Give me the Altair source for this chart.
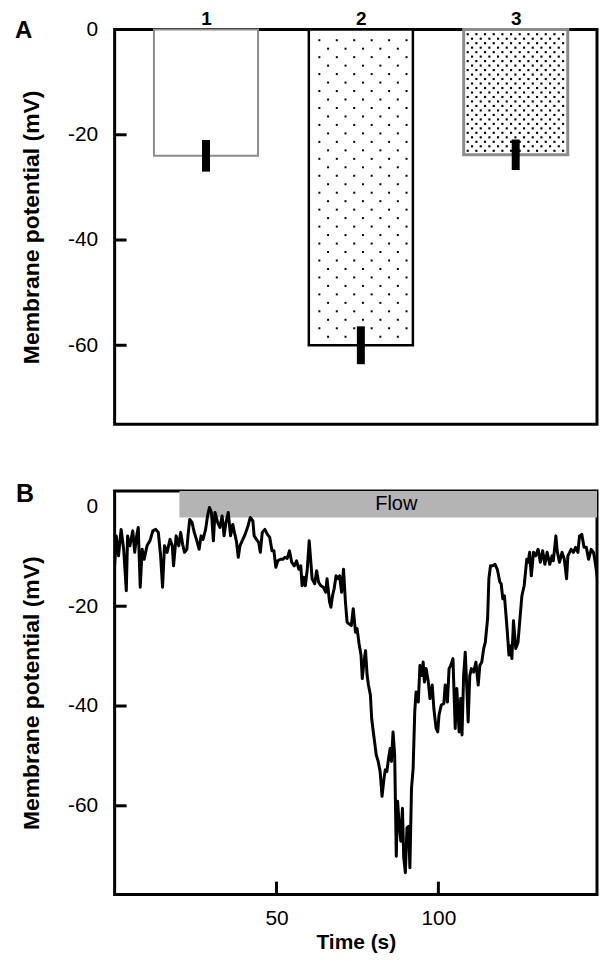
import altair as alt
import pandas as pd

FONT = "Liberation Sans"

# ---------------- Panel A data ----------------
bar_ids = [1, 2, 3]
bar_means = [-24.0, -60.0, -23.8]
bar_sems = [3.0, 3.6, 2.9]
a_tick_values = [0, -20, -40, -60]
inner_ticks_a = [-20, -40, -60]

# ---------------- Panel B data ----------------
time_s = [0.0, 0.5, 1.2, 2.0, 2.8, 3.6, 4.0, 4.7, 5.6, 6.2, 6.8, 7.3, 7.9, 8.5, 9.1, 10.0,
          10.9, 11.8, 12.7, 13.5, 14.2, 14.8, 15.4, 16.2, 17.1, 17.8, 18.2, 19.0, 19.8, 20.4,
          21.0, 21.6, 22.3, 22.7, 23.2, 23.9, 24.6, 25.4, 26.1, 26.7, 27.3, 28.1, 28.7, 29.3,
          29.9, 30.5, 31.0, 31.8, 32.5, 33.2, 33.8, 34.4, 35.1, 35.8, 36.5, 37.0, 37.6, 38.2,
          38.7, 39.6, 40.3, 41.2, 41.9, 42.7, 43.1, 43.8, 44.5, 45.0, 45.6, 46.4, 47.2, 47.9,
          48.6, 49.2, 49.8, 50.4, 51.2, 51.9, 52.6, 53.3, 54.0, 54.7, 55.5, 56.2, 56.9, 57.5,
          57.9, 58.4, 58.9, 59.5, 60.1, 60.7, 61.0, 61.8, 62.4, 63.0, 63.7, 64.5, 65.2, 65.6,
          66.4, 66.8, 67.3, 67.8, 68.4, 69.0, 69.5, 70.1, 70.7, 71.3, 71.8, 72.3, 73.1, 73.7,
          74.4, 74.9, 75.5, 76.1, 76.5, 77.0, 77.5, 78.0, 78.4, 79.0, 79.4, 79.9, 80.3, 80.8,
          81.4, 82.0, 82.6, 83.2, 83.6, 84.1, 84.6, 85.1, 85.5, 86.0, 86.5, 87.0, 87.4, 87.9,
          88.4, 88.9, 89.3, 89.8, 90.3, 90.8, 91.2, 91.7, 92.2, 92.7, 93.1, 93.8, 94.3, 94.8,
          95.3, 95.7, 96.2, 96.9, 97.4, 98.1, 98.6, 99.3, 99.8, 100.2, 100.9, 101.7, 102.1, 102.8,
          103.3, 103.8, 104.5, 105.2, 105.7, 106.4, 106.9, 107.3, 107.8, 108.3, 108.8, 109.2,
          109.7, 110.2, 110.9, 111.6, 112.3, 112.8, 113.4, 114.0, 114.5, 115.2, 115.6, 116.1,
          116.8, 117.5, 118.2, 119.0, 119.4, 119.9, 120.4, 120.9, 121.3, 121.8, 122.3, 122.7,
          123.2, 123.9, 124.6, 125.2, 125.8, 126.5, 127.3, 127.7, 128.2, 128.7, 129.4, 130.1,
          130.8, 131.5, 132.2, 132.9, 133.6, 134.4, 135.1, 135.5, 136.3, 136.7, 137.4, 138.2,
          138.9, 139.6, 140.0, 141.0, 141.7, 142.4, 143.1, 143.6, 144.3, 145.0, 145.7, 146.4,
          147.2, 147.9, 148.3, 149.3]
vm_mv = [-11.9, -5.9, -9.9, -4.6, -8.6, -16.9, -5.9, -7.9, -4.9, -9.2, -5.9, -4.2, -16.2, -8.6, -10.6, -7.9,
         -6.9, -4.9, -4.6, -5.2, -9.9, -16.2, -7.9, -9.2, -6.6, -7.9, -11.9, -5.9, -7.9, -5.2,
         -7.6, -9.2, -8.6, -5.6, -2.6, -3.2, -5.2, -6.9, -8.6, -5.9, -6.6, -4.6, -1.9, -0.2,
         -1.2, -6.9, -1.2, -3.2, -4.2, -1.9, -5.9, -3.2, -1.2, -5.9, -3.6, -5.2, -6.9, -10.2,
         -7.9, -6.6, -5.6, -3.9, -2.2, -2.9, -5.9, -6.6, -7.2, -9.2, -5.2, -4.6, -5.6, -6.2,
         -8.9, -8.9, -12.2, -10.9, -10.6, -10.6, -10.2, -10.4, -8.9, -11.2, -11.9, -10.9, -12.6, -11.9,
         -15.9, -14.2, -15.9, -12.6, -6.9, -11.9, -14.5, -15.5, -12.9, -15.2, -15.9, -16.2, -17.2, -14.5,
         -19.2, -20.2, -17.9, -16.5, -13.9, -14.5, -13.9, -17.2, -12.6, -19.2, -23.2, -23.5, -23.9, -20.5,
         -25.2, -24.5, -27.5, -29.8, -34.5, -31.2, -28.9, -33.9, -35.8, -37.8, -42.5, -45.2, -47.2, -49.8,
         -51.1, -53.1, -58.1, -54.5, -52.8, -53.1, -50.5, -48.5, -51.1, -45.2, -49.8, -70.1, -59.1, -63.8,
         -67.1, -60.5, -70.4, -73.4, -64.4, -64.1, -72.4, -56.5, -52.5, -41.2, -37.2, -39.2, -31.9, -33.9,
         -31.2, -35.2, -32.5, -35.2, -38.5, -35.8, -40.5, -44.5, -45.2, -41.8, -39.8, -39.5, -35.8, -39.2,
         -32.5, -31.9, -30.5, -44.5, -36.5, -45.2, -38.5, -45.8, -33.9, -29.2, -36.5, -43.2,
         -33.9, -32.5, -33.2, -31.2, -35.8, -31.9, -31.2, -28.5, -27.2, -22.5, -14.5, -11.9,
         -11.9, -11.6, -12.6, -15.2, -15.5, -18.5, -17.9, -21.9, -25.2, -29.8, -27.9, -30.5,
         -22.9, -28.5, -27.2, -22.5, -17.9, -15.9, -10.6, -11.2, -9.2, -13.9, -9.2, -9.9,
         -8.6, -11.2, -8.9, -11.6, -9.2, -11.6, -9.9, -10.9, -5.9, -8.9, -11.2, -9.2,
         -10.6, -14.5, -9.9, -8.6, -9.2, -8.2, -9.2, -5.9, -5.6, -8.2, -8.2, -10.6,
         -8.6, -9.2, -10.6, -15.2]
flow_start = [20]
flow_end = [150]
flow_low = [-2.2]
flow_high = [3.1]
flow_label = ["Flow"]
flow_label_time = [87]
b_y_tick_values = [0, -20, -40, -60]
inner_ticks_b_y = [-20, -40, -60]
b_x_tick_values = [50, 100]

# ---------------- styles ----------------
WA, HA = 484, 396
WB, HB = 484, 405
BAR_HALF = 0.336  # half bar width in category units

axis_y_common = dict(ticks=False, tickSize=0, domain=False, grid=False, labelFontSize=21,
                     labelPadding=17, labelColor="black", titleFontSize=23,
                     titleFontWeight="bold", titleColor="black", titlePadding=24,
                     labelFont=FONT, titleFont=FONT, labelExpr="'' + datum.value")

xa = alt.Scale(domain=[0.41, 3.525], nice=False, zero=False)
ya = alt.Scale(domain=[-75, 0], nice=False, zero=False)
ax_xa = alt.Axis(orient="top", values=bar_ids, format="d", title=None,
                 ticks=False, tickSize=0, domain=False, grid=False, labelFontSize=19,
                 labelFontWeight="bold", labelPadding=1, labelColor="black",
                 labelFont=FONT)
ax_ya = alt.Axis(values=a_tick_values, title="Membrane potential (mV)", **axis_y_common)

bars_df = pd.DataFrame({"bar": bar_ids, "mean": bar_means, "sem": bar_sems})

bars = alt.Chart(bars_df).transform_calculate(
    x1=f"datum.bar - {BAR_HALF}", x2=f"datum.bar + {BAR_HALF}", base="0"
).mark_rect(fill="white").encode(
    x=alt.X("x1:Q", scale=xa, axis=ax_xa),
    x2="x2:Q",
    y=alt.Y("mean:Q", scale=ya, axis=ax_ya),
    y2="base:Q",
    stroke=alt.Stroke("bar:O", scale=alt.Scale(domain=bar_ids,
                      range=["#8c8c8c", "#000000", "#8c8c8c"]), legend=None),
    strokeWidth=alt.StrokeWidth("bar:O", scale=alt.Scale(domain=bar_ids,
                      range=[2, 3, 2.5]), legend=None),
)


def dot_layer(bar, row_step, col_step, first_row, first_col, ncols, size):
    return alt.Chart(bars_df).transform_filter(
        alt.datum.bar == bar
    ).transform_calculate(
        rows=f"sequence(0, floor((-datum.mean - 0.4 - {first_row}) / {row_step}) + 1)"
    ).transform_flatten(["rows"], as_=["r"]).transform_calculate(
        cols=f"sequence(0, {ncols})"
    ).transform_flatten(["cols"], as_=["c"]).transform_calculate(
        dx=f"datum.bar - {BAR_HALF} + {first_col} + datum.c * {col_step} + (datum.r % 2) * {col_step / 2}",
        dy=f"-({first_row} + datum.r * {row_step})",
    ).transform_filter(
        f"datum.dx < datum.bar + {BAR_HALF} - 0.02"
    ).mark_square(size=size, color="black", opacity=1, strokeWidth=0).encode(
        x=alt.X("dx:Q", scale=xa, axis=ax_xa),
        y=alt.Y("dy:Q", scale=ya, axis=ax_ya),
    )


dots2 = dot_layer(2, 1.61, 0.1126, 2.03, 0.068, 6, 4)
dots3 = dot_layer(3, 0.852, 0.056, 0.89, 0.026, 12, 4.5)

errs = alt.Chart(bars_df).transform_calculate(
    lo="datum.mean - datum.sem", hi="datum.mean + datum.sem"
).mark_rule(color="black", strokeWidth=8).encode(
    x=alt.X("bar:Q", scale=xa, axis=ax_xa),
    y=alt.Y("lo:Q", scale=ya, axis=ax_ya),
    y2="hi:Q",
)

ticks_a = alt.Chart(pd.DataFrame({"v": inner_ticks_a})).mark_rule(
    color="black", strokeWidth=3
).encode(y=alt.Y("v:Q", scale=ya, axis=ax_ya), x=alt.value(0), x2=alt.value(12))

label_a = alt.Chart(pd.DataFrame({"t": ["A"]})).mark_text(
    font=FONT, fontSize=24, fontWeight="bold", align="left", baseline="alphabetic",
    color="black"
).encode(text="t:N", x=alt.value(-100), y=alt.value(8))

panel_a = alt.layer(bars, dots2, dots3, errs, ticks_a, label_a).properties(
    width=WA, height=HA)

# ---------------- Panel B ----------------
xb = alt.Scale(domain=[0, 149], nice=False, zero=False)
yb = alt.Scale(domain=[-77.8, 3.1], nice=False, zero=False)
ax_xb = alt.Axis(values=b_x_tick_values, title="Time (s)", ticks=False, tickSize=0,
                 domain=False, grid=False, labelFontSize=21, labelPadding=13,
                 labelColor="black", titleFontSize=21, titleFontWeight="bold",
                 titleColor="black", titlePadding=3, labelFont=FONT, titleFont=FONT)
ax_yb = alt.Axis(values=b_y_tick_values, title="Membrane potential (mV)", **axis_y_common)

trace_df = pd.DataFrame({"t": time_s, "v": vm_mv})
flow_df = pd.DataFrame({"start": flow_start, "end": flow_end, "low": flow_low,
                        "high": flow_high, "label": flow_label,
                        "lt": flow_label_time})

flow_rect = alt.Chart(flow_df).mark_rect(color="#b4b4b4", clip=True).encode(
    x=alt.X("start:Q", scale=xb, axis=ax_xb),
    x2="end:Q",
    y=alt.Y("low:Q", scale=yb, axis=ax_yb),
    y2="high:Q",
)

flow_text = alt.Chart(flow_df).transform_calculate(
    mid="(datum.low + datum.high) / 2"
).mark_text(font=FONT, fontSize=20, color="black", baseline="middle").encode(
    x=alt.X("lt:Q", scale=xb, axis=ax_xb),
    y=alt.Y("mid:Q", scale=yb, axis=ax_yb),
    text="label:N",
)

trace = alt.Chart(trace_df).mark_line(
    color="black", strokeWidth=3, clip=True, strokeJoin="round"
).encode(
    x=alt.X("t:Q", scale=xb, axis=ax_xb),
    y=alt.Y("v:Q", scale=yb, axis=ax_yb),
)

ticks_by = alt.Chart(pd.DataFrame({"v": inner_ticks_b_y})).mark_rule(
    color="black", strokeWidth=3
).encode(y=alt.Y("v:Q", scale=yb, axis=ax_yb), x=alt.value(0), x2=alt.value(12))

ticks_bx = alt.Chart(pd.DataFrame({"t": b_x_tick_values})).mark_rule(
    color="black", strokeWidth=3
).encode(x=alt.X("t:Q", scale=xb, axis=ax_xb), y=alt.value(HB), y2=alt.value(HB - 13))

label_b = alt.Chart(pd.DataFrame({"t": ["B"]})).mark_text(
    font=FONT, fontSize=25, fontWeight="bold", align="left", baseline="alphabetic",
    color="black"
).encode(text="t:N", x=alt.value(-99), y=alt.value(11))

panel_b = alt.layer(flow_rect, flow_text, trace, ticks_by, ticks_bx, label_b).properties(
    width=WB, height=HB)

chart = alt.vconcat(panel_a, panel_b, spacing=54).properties(
    padding={"left": 5, "top": -2, "right": 0, "bottom": 0},
    background="white",
).configure_view(stroke="black", strokeWidth=3)

chart.save("out.html", embed_options={"renderer": "svg", "actions": False})
